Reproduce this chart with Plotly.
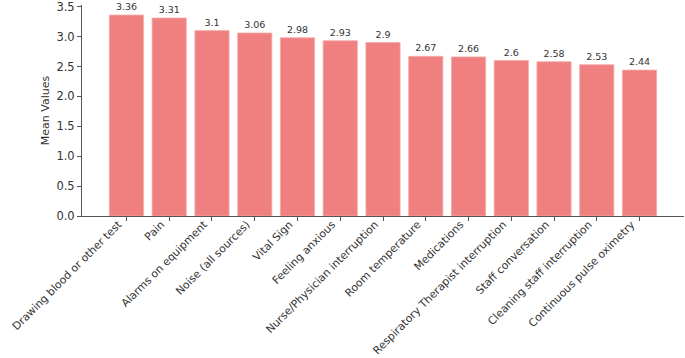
import plotly.graph_objects as go

categories = [
    "Drawing blood or other test", "Pain", "Alarms on equipment", "Noise (all sources)",
    "Vital Sign", "Feeling anxious", "Nurse/Physician interruption", "Room temperature",
    "Medications", "Respiratory Therapist interruption", "Staff conversation",
    "Cleaning staff interruption", "Continuous pulse oximetry",
]
values = [3.36, 3.31, 3.1, 3.06, 2.98, 2.93, 2.9, 2.67, 2.66, 2.6, 2.58, 2.53, 2.44]
labels = [str(v) for v in values]
y_ticks = [0.0, 0.5, 1.0, 1.5, 2.0, 2.5, 3.0, 3.5]

fig = go.Figure(go.Bar(
    x=list(range(len(categories))), y=values,
    text=labels, textposition="outside",
    textfont=dict(size=9.5, color="#333333"),
    marker=dict(color="#F08080", line=dict(color="#F6AAAA", width=0.8)),
    width=0.8, cliponaxis=False,
))

fig.update_layout(
    width=685, height=358,
    margin=dict(l=82, r=1, t=5, b=142, autoexpand=False),
    plot_bgcolor="white", paper_bgcolor="white",
    font=dict(family="DejaVu Sans", size=11, color="#333333"),
    showlegend=False, bargap=0.2,
)
fig.update_xaxes(
    range=[-1.04, 13.04], tickmode="array", automargin=False,
    tickvals=list(range(len(categories))), ticktext=categories,
    tickangle=-45, showline=True, linecolor="#555555", linewidth=1,
    ticks="outside", ticklen=4, tickcolor="#555555", showgrid=False, zeroline=False,
    tickfont=dict(size=10.8, color="#333333"), ticklabelstandoff=-7,
    ticklabelshift=-8, ticklabeloverflow="allow",
)
fig.update_yaxes(
    range=[0, 3.528], tickmode="array", tickvals=y_ticks, automargin=False,
    ticktext=[f"{t:.1f}" for t in y_ticks],
    showline=True, linecolor="#555555", linewidth=1,
    ticks="outside", ticklen=4, tickcolor="#555555", showgrid=False, zeroline=False,
    title=dict(text="Mean Values", font=dict(size=11, color="#333333"), standoff=4),
    tickfont=dict(size=11.5, color="#333333"), ticklabeloverflow="allow",
)

fig.write_html(
    "out.html",
    config={"displayModeBar": False},
    post_script="document.body.style.margin='0';document.body.style.padding='0';"
                "document.documentElement.style.overflow='hidden';",
)
